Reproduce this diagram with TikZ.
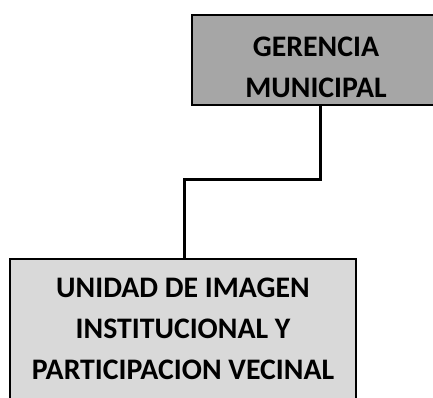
\documentclass[tikz,border=0pt]{standalone}
\usepackage{fontspec}
\setmainfont{Carlito}
\usetikzlibrary{positioning}
\definecolor{boxgray}{HTML}{A6A6A6}
\definecolor{boxlight}{HTML}{D9D9D9}
\tikzset{
  orgbox/.style={draw=black, line width=2pt, align=center, inner sep=0pt,
    font=\bfseries\fontsize{29.8}{41}\selectfont},
  gerbox/.style={orgbox, fill=boxgray, minimum width=248pt, minimum height=90pt},
  unibox/.style={orgbox, fill=boxlight, minimum width=346pt, minimum height=140pt},
  conn/.style={draw=black, line width=3pt}
}
\begin{document}
\begin{tikzpicture}[x=1pt,y=1pt]
  \useasboundingbox (0,0) rectangle (433,397);
  % cajas
  \node[gerbox] (gerencia) at (316,337) {\rule{0pt}{34pt}GERENCIA\\MUNICIPAL};
  \node[unibox] (unidad) at (183,68) {UNIDAD DE IMAGEN\\INSTITUCIONAL Y\\PARTICIPACION VECINAL};
  % conector
  \coordinate (codo) at (320,218);
  \draw[conn] (gerencia.south -| codo) -- (codo) -| ([xshift=1pt]unidad.north);
\end{tikzpicture}
\end{document}
